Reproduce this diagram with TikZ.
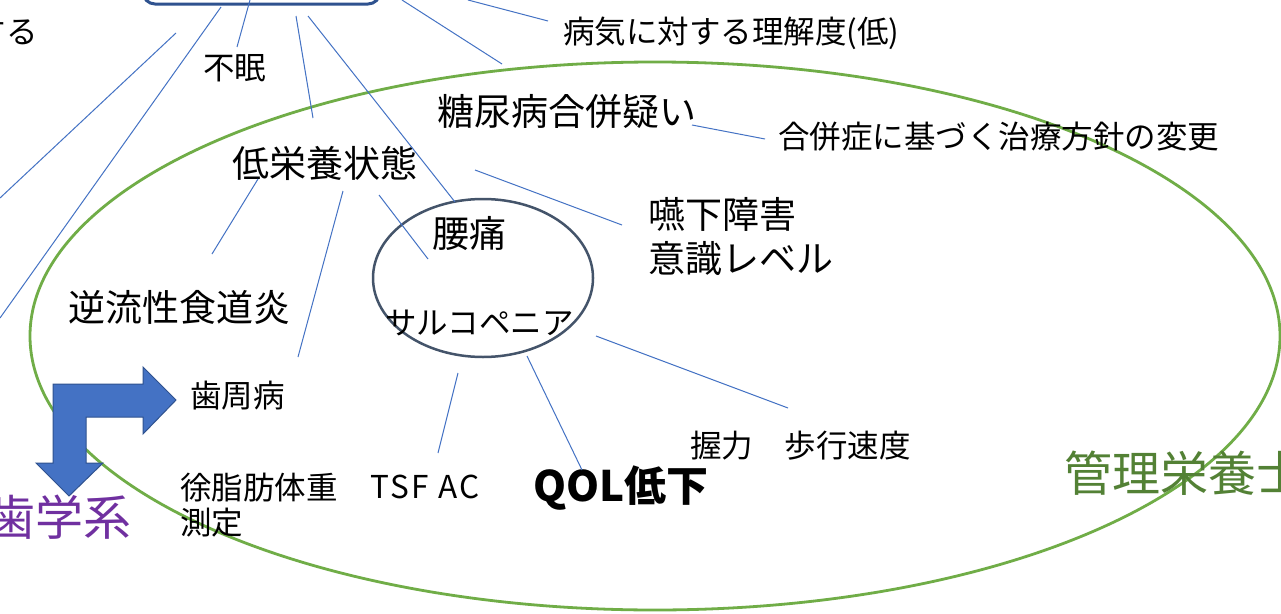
\documentclass[tikz,border=0pt]{standalone}
\usepackage{fontspec}
\setmainfont{Noto Sans CJK JP}
\definecolor{lineblue}{HTML}{4472C4}
\definecolor{darkblue}{HTML}{2F528F}
\definecolor{slate}{HTML}{44546A}
\definecolor{leafgreen}{HTML}{70AD47}
\definecolor{textgreen}{HTML}{538135}
\definecolor{purp}{HTML}{7030A0}
\tikzset{
  lbl/.style={inner sep=0pt, anchor=west, text=black},
  smalltxt/.style={lbl, font=\fontsize{31.5}{36}\selectfont},
  bigtxt/.style={lbl, font=\fontsize{37}{44}\selectfont},
  link/.style={draw=lineblue, line width=1pt},
}
\begin{document}
\begin{tikzpicture}[x=1pt,y=-1pt]
\useasboundingbox (0,0) rectangle (1281,613);
\clip (0,0) rectangle (1281,613);
\fill[white] (0,0) rectangle (1281,613);

% big green ellipse
\draw[leafgreen, line width=2.8pt] (655,336) ellipse [x radius=625, y radius=274];

% top rounded box (cut off)
\draw[darkblue, line width=3pt, rounded corners=12pt] (143,-40) rectangle (380,4);

% small ellipse
\draw[slate, line width=2.5pt] (483,278) ellipse [x radius=110, y radius=79];

% labels
\node[smalltxt, anchor=east] (suru) at (38,32) {する};
\node[smalltxt] (byouki) at (563,33) {病気に対する理解度(低)};
\node[smalltxt] (fumin) at (203,68) {不眠};
\node[bigtxt] (tounyou) at (437,112) {糖尿病合併疑い};
\node[smalltxt] (gappei) at (778,137) {合併症に基づく治療方針の変更};
\node[bigtxt] (teieiyou) at (232,163) {低栄養状態};
\node[bigtxt, align=left] (enge) at (648,237) {嚥下障害\\意識レベル};
\node[bigtxt] (youtsu) at (432,233) {腰痛};
\node[smalltxt] (sarco) at (385,323) {サルコペニア};
\node[bigtxt] (gyaku) at (68,307) {逆流性食道炎};
\node[smalltxt] (shishu) at (190,396) {歯周病};
\node[smalltxt] (akuryoku) at (690,446) {握力　歩行速度};
\node[lbl, align=left, font=\fontsize{31.5}{35}\selectfont] (jyoshi) at (180,505) {徐脂肪体重\\測定};
\node[smalltxt] (tsf) at (370,487) {\addfontfeature{LetterSpace=8}TSF AC};
\node[lbl, font=\fontsize{42}{48}\selectfont\bfseries] (qol) at (533,488) {QOL低下};
\node[lbl, text=textgreen, font=\fontsize{48}{56}\selectfont] (kanri) at (1064,473) {管理栄養士};
\node[lbl, text=purp, font=\fontsize{48}{56}\selectfont] (shigaku) at (-13,517) {歯学系};

% connector end points
\coordinate (a1) at (176,33);  \coordinate (b1) at (0,198);
\coordinate (a2) at (221,7);   \coordinate (b2) at (0,318);
\coordinate (a3) at (250,0);   \coordinate (b3) at (237,47);
\coordinate (a4) at (296,16);  \coordinate (b4) at (313,118);
\coordinate (a5) at (308,16);  \coordinate (b5) at (455,202);
\coordinate (a6) at (402,0);   \coordinate (b6) at (502,64);
\coordinate (a7) at (468,0);   \coordinate (b7) at (548,21);
\coordinate (a8) at (692,125); \coordinate (b8) at (765,139);
\coordinate (a9) at (475,170); \coordinate (b9) at (622,225);
\coordinate (a10) at (258,179); \coordinate (b10) at (212,254);
\coordinate (a11) at (343,191); \coordinate (b11) at (298,357);
\coordinate (a12) at (379,195); \coordinate (b12) at (428,259);
\coordinate (a13) at (596,336); \coordinate (b13) at (788,408);
\coordinate (a14) at (458,373); \coordinate (b14) at (438,453);
\coordinate (a15) at (527,356); \coordinate (b15) at (582,470);

\foreach \i in {1,...,15} {\draw[link] (a\i) -- (b\i);}

% bent arrow
\draw[darkblue, fill=lineblue, line width=1pt, line join=miter]
  (69,496) -- (103,463) -- (86,463) -- (86,417) -- (143,417) -- (143,434)
  -- (176,400) -- (143,367) -- (143,384) -- (53,384) -- (53,463) -- (36,463) -- cycle;
\end{tikzpicture}
\end{document}
